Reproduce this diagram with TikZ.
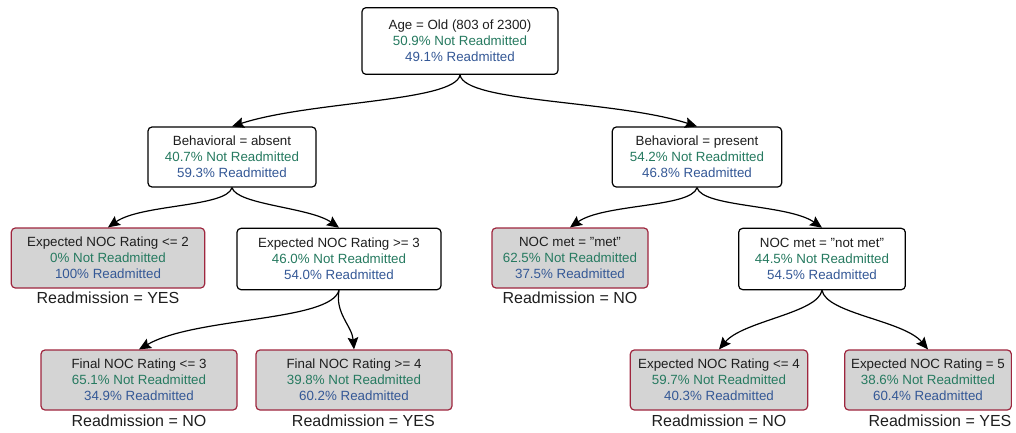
\documentclass[tikz,border=0pt]{standalone}
\usepackage{fontspec}
\setmainfont{Liberation Sans}
\usepackage{tikz}
\usetikzlibrary{arrows.meta, positioning}

\definecolor{notgreen}{RGB}{38,122,96}
\definecolor{readblue}{RGB}{52,88,150}
\definecolor{leafborder}{RGB}{158,38,62}
\definecolor{leaffill}{RGB}{212,212,212}
\definecolor{headtext}{RGB}{30,30,30}

\newcommand{\readstats}[2]{\\{\color{notgreen}#1\% Not Readmitted}\\{\color{readblue}#2\% Readmitted}}

\begin{document}
\begin{tikzpicture}[x=0.75pt, y=-0.75pt,
    split/.style={draw, line width=0.9pt, rounded corners=3pt, fill=white, align=center,
        text=headtext, font=\fontsize{10}{12}\selectfont, minimum height=45pt, inner sep=2pt},
    leaf/.style={split, draw=leafborder, fill=leaffill},
    verdict/.style={font=\fontsize{12}{14}\selectfont, inner sep=1pt, text=headtext},
    branch/.style={-{Stealth[length=9pt, width=8pt, inset=1.5pt]}, line width=0.9pt}]
        \useasboundingbox (0,0) rectangle (1016,432);
        % Readmission decision tree
        \node[split, minimum width=147pt, minimum height=50pt] (root) at (460,41) {Age = Old (803 of 2300)\readstats{50.9}{49.1}};
        \node[split, minimum width=126pt] (absent) at (232,157) {Behavioral = absent\readstats{40.7}{59.3}};
        \node[split, minimum width=127pt] (present) at (697,157) {Behavioral = present\readstats{54.2}{46.8}};
        \node[leaf, minimum width=145pt] (expTwo) at (108,258) {Expected NOC Rating <= 2\readstats{0}{100}};
        \node[split, minimum width=153pt, minimum height=46pt] (expThree) at (339,259) {Expected NOC Rating >= 3\readstats{46.0}{54.0}};
        \node[leaf, minimum width=117pt] (met) at (570,258) {NOC met = "met"\readstats{62.5}{37.5}};
        \node[split, minimum width=125pt, minimum height=46pt] (notmet) at (822,259) {NOC met = "not met"\readstats{44.5}{54.5}};
        \node[leaf, minimum width=147pt] (finalLow) at (139,380) {Final NOC Rating <= 3\readstats{65.1}{34.9}};
        \node[leaf, minimum width=147pt] (finalHigh) at (354,380) {Final NOC Rating >= 4\readstats{39.8}{60.2}};
        \node[leaf, minimum width=133pt] (expFour) at (719,380) {Expected NOC Rating <= 4\readstats{59.7}{40.3}};
        \node[leaf, minimum width=125pt] (expFive) at (928,380) {Expected NOC Rating = 5\readstats{38.6}{60.4}};

        \node[verdict, below=1pt of expTwo] (vTwo) {Readmission = YES};
        \node[verdict, below=1pt of met] (vMet) {Readmission = NO};
        \node[verdict, below=2pt of finalLow] (vLow) {Readmission = NO};
        \node[verdict, below=2pt of finalHigh, xshift=7pt] (vHigh) {Readmission = YES};
        \node[verdict, below=2pt of expFour] (vFour) {Readmission = NO};
        \node[verdict, below=2pt of expFive, xshift=9pt] (vFive) {Readmission = YES};

        \draw[branch] (root.south) to[out=-100, in=18, out looseness=0.3, in looseness=0.9] (absent.north);
        \draw[branch] (root.south) to[out=-80, in=162, out looseness=0.3, in looseness=0.9] (present.north);
        \draw[branch] (absent.south) to[out=-105, in=35, out looseness=0.4, in looseness=0.8] (expTwo.north);
        \draw[branch] (absent.south) to[out=-75, in=145, out looseness=0.4, in looseness=0.8] (expThree.north);
        \draw[branch] (present.south) to[out=-105, in=35, out looseness=0.4, in looseness=0.8] (met.north);
        \draw[branch] (present.south) to[out=-75, in=145, out looseness=0.4, in looseness=0.8] (notmet.north);
        \draw[branch] (expThree.south) to[out=-105, in=30, out looseness=0.4, in looseness=0.8] (finalLow.north);
        \draw[branch] (expThree.south) to[out=-100, in=95, looseness=1] (finalHigh.north);
        \draw[branch] (notmet.south) to[out=-100, in=50, out looseness=0.5, in looseness=0.8] (expFour.north);
        \draw[branch] (notmet.south) to[out=-80, in=130, out looseness=0.5, in looseness=0.8] (expFive.north);
    \end{tikzpicture}
\end{document}
